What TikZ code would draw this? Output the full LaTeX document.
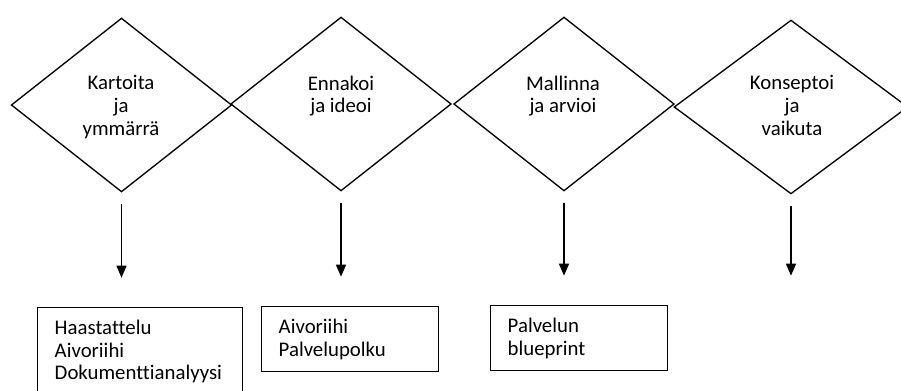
\documentclass[tikz,border=0pt]{standalone}
\usepackage{fontspec}
\setmainfont{Carlito}[Ligatures=NoCommon]
\usetikzlibrary{arrows.meta,shapes.geometric}

\begin{document}
\begin{tikzpicture}[line width=1pt, >={Triangle[length=9pt,width=7.5pt]}, x=0.75pt, y=-0.75pt,
  phase/.style={draw, diamond, inner sep=0pt, outer sep=0pt, minimum width=165pt, minimum height=130pt},
  phasetext/.style={anchor=north, inner sep=0pt, align=center, font=\fontsize{15.6}{16.9}\selectfont},
  methodbox/.style={draw, line width=1.1pt, anchor=north west, inner xsep=12.75pt, inner ysep=0pt, align=left, font=\fontsize{15.6}{16.9}\selectfont},
  flow/.style={->, line width=1.1pt, shorten <=9pt, shorten >=22pt}]
  \useasboundingbox (0,0) rectangle (901,390);
  % Four phases as a row of diamonds, tip to tip.
  \node[phase] (d1) at (121.5,105) {};
  \node[phase] (d2) at (341,104) {};
  \node[phase] (d3) at (564,104) {};
  \node[phase, minimum width=175pt] (d4) at (791,107) {};
  % Phase names, first lines at the same height.
  \node[phasetext] (n1) at (121,75) {Kartoita\\ja\\ymmärrä};
  \node[phasetext] (n2) at (341,75) {Ennakoi\\ja ideoi};
  \node[phasetext] (n3) at (563,75) {Mallinna\\ja arvioi};
  \node[phasetext] (n4) at (792,75) {Konseptoi\\ja\\vaikuta};
  % Methods under the first three phases.
  \node[methodbox, text width=128pt, minimum height=65.6pt] (m1) at (37,307) {Haastattelu\\Aivoriihi\\Dokumenttianalyysi};
  \node[methodbox, text width=107pt, minimum height=48.75pt] (m2) at (261,306) {Aivoriihi\\Palvelupolku};
  \node[methodbox, text width=107pt, minimum height=48.75pt] (m3) at (490,305) {Palvelun\\blueprint};
  % Arrows down from each phase.
  \draw[flow] (d1.south) -- (d1.south |- m1.north);
  \draw[flow] (d2.south) -- (d2.south |- m2.north);
  \draw[flow] (d3.south) -- (d3.south |- m3.north);
  \draw[flow] (d4.south) -- (d4.south |- m3.north);
\end{tikzpicture}
\end{document}
